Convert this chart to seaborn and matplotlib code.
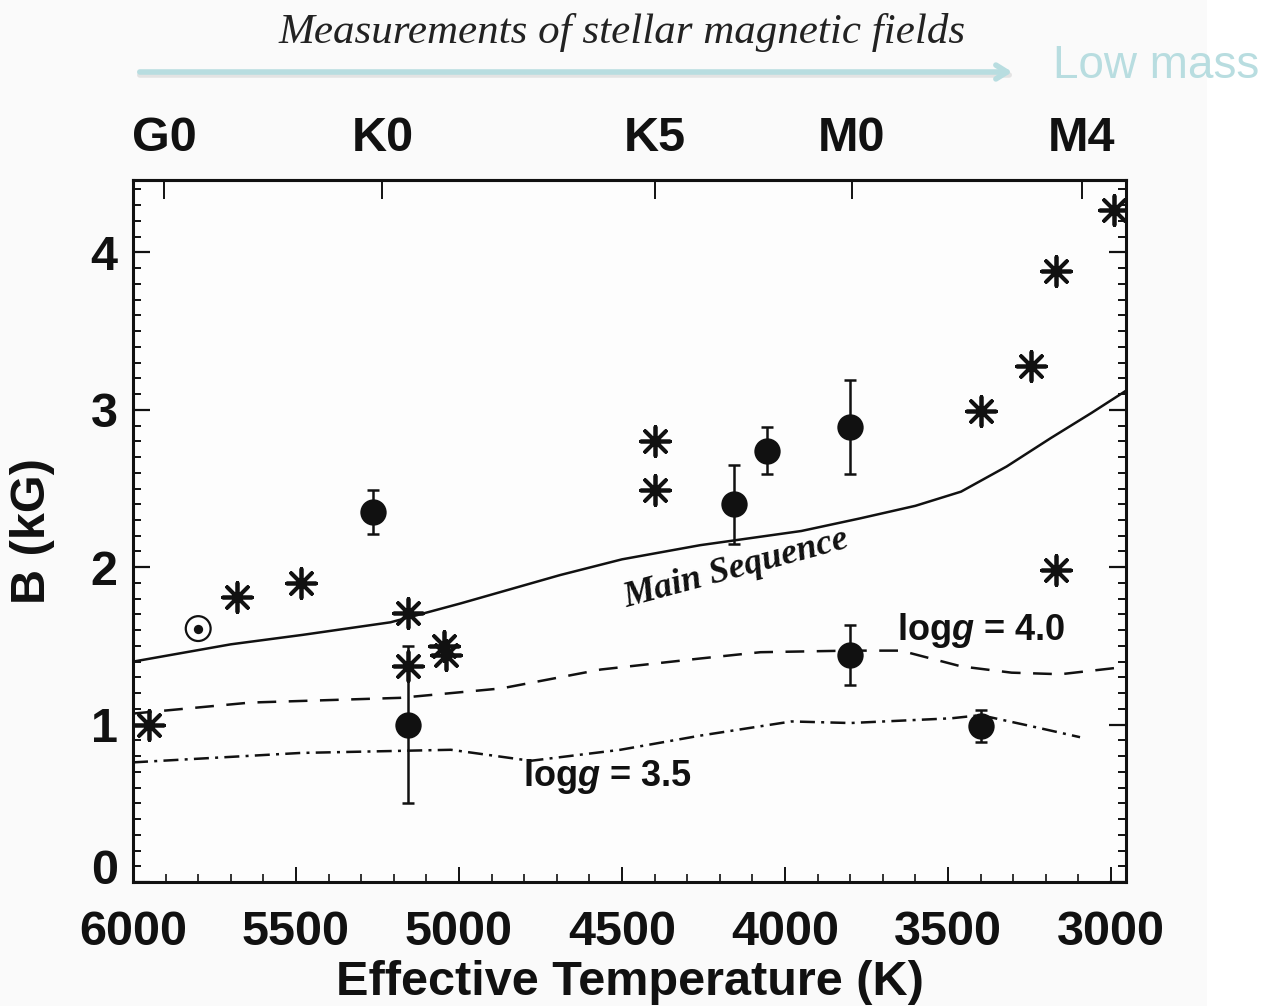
import numpy as np
import pandas as pd
import matplotlib
matplotlib.use("Agg")
import matplotlib.pyplot as plt
import matplotlib.patches as mpatches
from matplotlib.transforms import ScaledTranslation
import seaborn as sns

# ---- data -------------------------------------------------------------
# Zeeman-broadening field strengths (asterisks)
star_teff = [5950, 5680, 5485, 5155, 5155, 5045, 5040, 4400, 4400, 3400, 3245, 3170, 3170, 2990]
star_b    = [1.00, 1.81, 1.90, 1.71, 1.37, 1.50, 1.44, 2.80, 2.49, 2.99, 3.28, 3.88, 1.98, 4.27]

# measurements with error bars (filled circles)
dot_teff = [5265, 5155, 4155, 4055, 3800, 3800, 3400]
dot_b    = [2.35, 1.00, 2.40, 2.74, 2.89, 1.44, 0.99]
dot_err  = [0.14, 0.50, 0.25, 0.15, 0.30, 0.19, 0.10]

# the Sun
sun_teff = [5800]
sun_b    = [1.61]

# equipartition field strengths
ms_teff = [6000, 5700, 5480, 5210, 4995, 4690, 4500, 4260, 3950, 3770, 3600, 3460, 3320, 3185, 3060, 2955]
ms_b    = [1.40, 1.51, 1.57, 1.65, 1.77, 1.95, 2.05, 2.14, 2.23, 2.31, 2.39, 2.48, 2.64, 2.82, 2.98, 3.12]

g40_teff = [6000, 5640, 5180, 4870, 4565, 4260, 4075, 3800, 3645, 3460, 3305, 3155, 2985]
g40_b    = [1.07, 1.14, 1.17, 1.23, 1.35, 1.42, 1.46, 1.47, 1.47, 1.37, 1.33, 1.32, 1.36]

g35_teff = [6000, 5485, 5025, 4780, 4505, 4260, 3980, 3800, 3490, 3400, 3245, 3095]
g35_b    = [0.76, 0.82, 0.84, 0.77, 0.84, 0.93, 1.02, 1.01, 1.04, 1.06, 0.99, 0.92]

# spectral types along the top axis
sptype_teff  = [5905, 5235, 4400, 3795, 3090]
sptype_label = ["G0", "K0", "K5", "M0", "M4"]

x_ticks = [6000, 5500, 5000, 4500, 4000, 3500, 3000]
y_ticks = [0, 1, 2, 3, 4]

# ---- figure -----------------------------------------------------------
sns.set_theme(style="ticks")
plt.rcParams["font.family"] = ["Liberation Sans", "DejaVu Sans"]
plt.rcParams["mathtext.fontset"] = "custom"
plt.rcParams["mathtext.bfit"] = "Liberation Sans:bold:italic"
plt.rcParams["mathtext.rm"] = "Liberation Sans"

W, H = 1274, 1006
fig = plt.figure(figsize=(W / 100, H / 100), dpi=100, facecolor="white")
fig.patches.append(mpatches.Rectangle((0, 0), 1207 / W, 1, transform=fig.transFigure,
                                      facecolor="#fafafa", edgecolor="none", zorder=-10))

ax = fig.add_axes([133 / W, 1 - 882 / H, (1126 - 133) / W, (882 - 180) / H])
ax.set_facecolor("#fdfdfd")

ink = "#111111"
lw = 1.8

sns.lineplot(x=ms_teff, y=ms_b, ax=ax, color=ink, lw=lw, sort=False, estimator=None)
sns.lineplot(x=g40_teff, y=g40_b, ax=ax, color=ink, lw=lw, sort=False, estimator=None,
             linestyle=(0, (7.5, 5)))
sns.lineplot(x=g35_teff, y=g35_b, ax=ax, color=ink, lw=lw, sort=False, estimator=None,
             linestyle=(0, (6, 2.5, 1.2, 2.5)))

stars = pd.DataFrame({"teff": star_teff, "b": star_b})
sns.scatterplot(data=stars, x="teff", y="b", ax=ax, marker=(8, 2, 0), s=440,
                color=ink, linewidth=2.7, edgecolor=ink, zorder=5)

ax.errorbar(dot_teff, dot_b, yerr=dot_err, fmt="none", ecolor=ink, elinewidth=1.8,
            capsize=4.5, capthick=1.8, zorder=5)
dots = pd.DataFrame({"teff": dot_teff, "b": dot_b})
sns.scatterplot(data=dots, x="teff", y="b", ax=ax, marker="o", s=360,
                color=ink, edgecolor=ink, linewidth=0, zorder=6)

# solar symbol: ring with a central dot
sun = pd.DataFrame({"teff": sun_teff, "b": sun_b})
sns.scatterplot(data=sun, x="teff", y="b", ax=ax, marker="o", s=320,
                facecolor="none", edgecolor=ink, linewidth=1.6, zorder=6)
sns.scatterplot(data=sun, x="teff", y="b", ax=ax, marker="o", s=45,
                color=ink, linewidth=0, zorder=7)

ax.set_xlim(6000, 2954)
ax.set_ylim(0, 4.46)

ax.set_xticks(x_ticks)
ax.set_xticks(np.arange(5900, 2950, -100), minor=True)
ax.set_yticks(y_ticks)
ax.set_yticks(np.arange(0.1, 4.46, 0.1), minor=True)
ax.tick_params(axis="both", which="both", direction="in", top=False, right=True,
               colors=ink)
ax.tick_params(axis="x", which="major", length=11, width=1.4, pad=20,
               labelsize=35)
ax.tick_params(axis="x", which="minor", length=6, width=1.2)
ax.tick_params(axis="y", which="major", length=12, width=1.6, pad=11,
               labelsize=35)
ax.tick_params(axis="y", which="minor", length=6, width=1.4)
for lab in ax.get_xticklabels() + ax.get_yticklabels():
    lab.set_fontweight("bold")

# lift the zero label off the bottom spine
zero_tick = ax.yaxis.get_major_ticks()[0]
zero_tick.label1.set_transform(zero_tick.label1.get_transform()
                               + ScaledTranslation(0, 0.16, fig.dpi_scale_trans))

for sp in ax.spines.values():
    sp.set_linewidth(2.2)
    sp.set_color(ink)

ax.set_xlabel("Effective Temperature (K)", fontsize=35, fontweight="bold",
              color=ink, labelpad=4)
ax.set_ylabel("B (kG)", fontsize=35, fontweight="bold", color=ink, labelpad=26)

# spectral-type axis on top
top = ax.secondary_xaxis("top")
top.set_xticks(sptype_teff)
top.set_xticklabels(sptype_label, fontsize=35, fontweight="bold", color=ink)
top.tick_params(direction="in", length=14, width=1.4, pad=14, colors=ink)
top.spines["top"].set_linewidth(2.2)

# curve annotations
ax.text(4150, 1.99, "Main Sequence", fontsize=26, fontweight="bold", style="italic",
        family=["Liberation Serif", "DejaVu Serif"], rotation=15,
        ha="center", va="center", color=ink)
ax.text(3400, 1.60, r"log$\mathbfit{g}$ = 4.0", fontsize=26, fontweight="bold",
        ha="center", va="center", color=ink)
ax.text(4545, 0.67, r"log$\mathbfit{g}$ = 3.5", fontsize=26, fontweight="bold",
        ha="center", va="center", color=ink)

# heading and mass-direction arrow
fig.text(622 / W, 1 - 32 / H, "Measurements of stellar magnetic fields",
         fontsize=31, style="italic", family=["Liberation Serif", "DejaVu Serif"],
         ha="center", va="center", color="#222222")
arrow_col = "#b8dde0"
fig.patches.append(mpatches.FancyArrowPatch(
    (137 / W, 1 - 75 / H), (1012 / W, 1 - 75 / H), transform=fig.transFigure,
    arrowstyle="-", color="#c8c8c8", lw=4, alpha=0.45))
fig.patches.append(mpatches.FancyArrowPatch(
    (137 / W, 1 - 72 / H), (1015 / W, 1 - 72 / H), transform=fig.transFigure,
    arrowstyle="->,head_length=8,head_width=5", color=arrow_col, lw=4))
fig.text(1053 / W, 1 - 66 / H, "Low mass", fontsize=33, fontweight="normal",
         family=["Liberation Sans", "DejaVu Sans"],
         ha="left", va="center", color=arrow_col)

fig.savefig("out.png", dpi=100, facecolor=fig.get_facecolor())
